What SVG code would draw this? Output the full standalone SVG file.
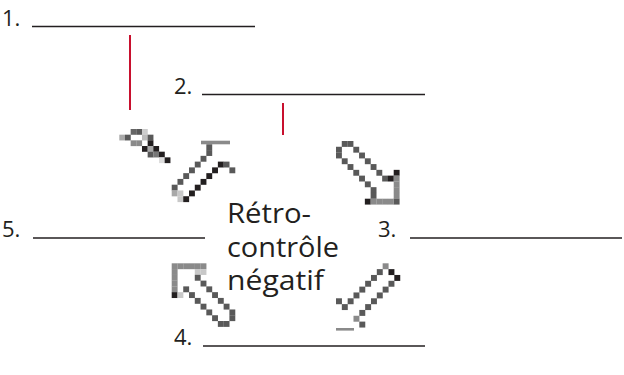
<svg xmlns="http://www.w3.org/2000/svg" width="624" height="375" viewBox="0 0 624 375">
<style>
.lbl{font-family:"Open Sans","Noto Sans","Liberation Sans",sans-serif;font-size:22px;fill:#231f20}
.ctr{font-family:"Open Sans","Noto Sans","Liberation Sans",sans-serif;font-size:26.5px;fill:#231f20}
.ul{stroke:#231f20;stroke-width:1.4;fill:none}
.red{stroke:#c8102e;stroke-width:2;fill:none}
.px rect{width:1.02px;height:1.02px}
.d{fill:#595959}.b{fill:#231f20}.g{fill:#8a8a8a}.l{fill:#c8c8c8}.m{fill:#a8a8a8}
</style>
<rect width="624" height="375" fill="#fff"/>
<g id="label1"><text class="lbl" x="2" y="26">1.</text><line class="ul" x1="32" y1="26.5" x2="255" y2="26.5"/></g>
<g id="label2"><text class="lbl" x="174" y="93.5">2.</text><line class="ul" x1="202" y1="94.5" x2="425" y2="94.5"/></g>
<g id="label3"><text class="lbl" x="378" y="237">3.</text><line class="ul" x1="410" y1="238" x2="622" y2="238"/></g>
<g id="label4"><text class="lbl" x="174" y="345">4.</text><line class="ul" x1="203" y1="346" x2="425" y2="346"/></g>
<g id="label5"><text class="lbl" x="2" y="237">5.</text><line class="ul" x1="33" y1="238" x2="205" y2="238"/></g>
<g id="center"><text class="ctr" x="227" y="223" textLength="84" lengthAdjust="spacingAndGlyphs">Rétro-</text><text class="ctr" x="227" y="257" textLength="112" lengthAdjust="spacingAndGlyphs">contrôle</text><text class="ctr" x="227" y="290" textLength="97" lengthAdjust="spacingAndGlyphs">négatif</text></g>
<g id="connectors">
<line class="red" x1="130" y1="35" x2="130" y2="110"/>
<line class="red" x1="283" y1="103" x2="283" y2="135"/>
<g id="arrow1a" class="px" transform="translate(119.3,129) scale(5.67)">
<rect x="2" y="0" fill="#666"/><rect x="3" y="0" class="d"/><rect x="4" y="0" fill="#ccc"/>
<rect x="0" y="1" fill="#aaa"/><rect x="1" y="1" class="d"/><rect x="4" y="1" fill="#bbb"/><rect x="5" y="1" class="d"/>
<rect x="2" y="2" class="g"/><rect x="3" y="2" class="g"/><rect x="5" y="2" class="b"/>
<rect x="4" y="3" class="b"/><rect x="5" y="3" fill="#aaa"/><rect x="6" y="3" class="b"/>
<rect x="5" y="4" class="d"/><rect x="6" y="4" fill="#777"/><rect x="7" y="4" class="b"/>
<rect x="7" y="5" fill="#ddd"/><rect x="8" y="5" class="b"/>
</g>
<rect x="201" y="140.7" width="29" height="3.6" class="g"/>
<g id="arrow1b" class="px" transform="translate(171.7,144.3) scale(5.77)">
<rect x="6" y="0" class="d"/><rect x="6" y="1" class="d"/>
<rect x="5" y="2" class="d"/><rect x="4" y="3" class="d"/><rect x="3" y="4" class="d"/><rect x="2" y="5" class="d"/><rect x="1" y="6" class="d"/><rect x="0" y="7" class="d"/>
<rect x="0" y="8" class="m"/><rect x="1" y="8" class="l"/><rect x="1" y="9" class="l"/><rect x="2" y="9" class="b"/>
<rect x="8" y="3" class="b"/><rect x="9" y="3" class="d"/><rect x="10" y="4" class="d"/>
<rect x="7" y="4" class="b"/><rect x="6" y="5" class="b"/><rect x="5" y="6" class="b"/><rect x="4" y="7" class="b"/><rect x="3" y="8" class="b"/>
</g>
<g id="arrow3" class="px" transform="translate(336,141) scale(5.77)">
<rect x="1" y="0" class="d"/><rect x="2" y="0" class="d"/>
<rect x="0" y="1" class="d"/><rect x="0" y="2" class="d"/>
<rect x="1" y="3" class="d"/><rect x="2" y="4" class="d"/><rect x="3" y="5" class="d"/><rect x="4" y="6" class="d"/><rect x="5" y="7" class="d"/><rect x="6" y="8" class="d"/><rect x="6" y="9" class="d"/>
<rect x="3" y="1" class="d"/><rect x="4" y="2" class="d"/><rect x="5" y="3" class="d"/><rect x="6" y="4" class="d"/><rect x="7" y="5" class="d"/><rect x="8" y="6" class="d"/>
<rect x="9" y="6" class="b"/><rect x="10" y="5" class="b"/>
<rect x="10" y="6" class="g"/><rect x="10" y="7" class="g"/><rect x="10" y="8" class="g"/><rect x="10" y="9" class="g"/><rect x="10" y="10" class="d"/>
<rect x="5" y="10" class="b"/><rect x="6" y="10" class="g"/><rect x="7" y="10" class="g"/><rect x="8" y="10" class="g"/><rect x="9" y="10" class="g"/>
</g>
<g id="arrow4" class="px" transform="translate(336,263.3) scale(5.83)">
<rect x="8" y="0" class="g"/><rect x="9" y="1" class="b"/><rect x="10" y="2" class="b"/>
<rect x="7" y="1" class="d"/><rect x="6" y="2" class="d"/><rect x="5" y="3" class="d"/><rect x="4" y="4" class="d"/><rect x="3" y="5" class="d"/><rect x="2" y="6" class="d"/>
<rect x="0" y="6" class="d"/><rect x="1" y="7" class="d"/>
<rect x="9" y="3" class="d"/><rect x="8" y="4" class="d"/><rect x="7" y="5" class="d"/><rect x="6" y="6" class="d"/><rect x="5" y="7" class="d"/><rect x="4" y="8" class="d"/>
<rect x="3" y="9" class="g"/><rect x="4" y="10" class="d"/>
</g>
<rect x="336" y="328" width="18" height="2.6" class="g"/>
<g id="arrow5" class="px" transform="translate(171.7,263.3) scale(5.77)">
<rect x="0" y="0" class="g"/><rect x="1" y="0" class="g"/><rect x="2" y="0" class="g"/><rect x="3" y="0" class="g"/><rect x="4" y="0" class="g"/><rect x="5" y="0" class="g"/>
<rect x="0" y="1" class="g"/><rect x="0" y="2" class="g"/><rect x="0" y="3" class="g"/><rect x="0" y="4" class="g"/><rect x="0" y="5" class="b"/>
<rect x="4" y="1" class="l"/><rect x="5" y="1" class="l"/><rect x="1" y="5" class="l"/>
<rect x="4" y="2" class="d"/><rect x="5" y="3" class="d"/><rect x="6" y="4" class="d"/><rect x="7" y="5" class="d"/><rect x="8" y="6" class="d"/><rect x="9" y="7" class="d"/><rect x="10" y="8" class="d"/><rect x="10" y="9" class="d"/>
<rect x="2" y="4" class="d"/><rect x="3" y="5" class="d"/><rect x="4" y="6" class="d"/><rect x="5" y="7" class="d"/><rect x="6" y="8" class="d"/><rect x="7" y="9" class="d"/>
<rect x="8" y="10" class="d"/><rect x="9" y="10" class="d"/>
</g>
</g>
</svg>
